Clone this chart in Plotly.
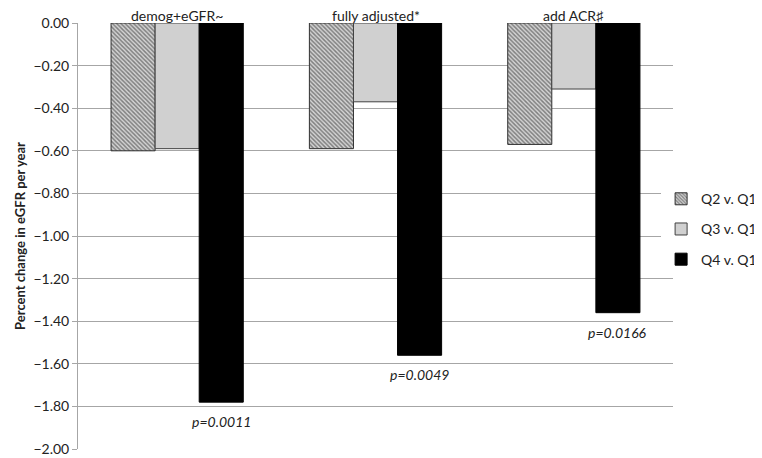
import plotly.graph_objects as go

categories = ["demog+eGFR~", "fully adjusted*", "add ACR\u266f"]
series_names = ["Q2 v. Q1", "Q3 v. Q1", "Q4 v. Q1"]
q2_values = [-0.60, -0.59, -0.57]
q3_values = [-0.59, -0.37, -0.31]
q4_values = [-1.78, -1.56, -1.36]
p_labels = ["p=0.0011", "p=0.0049", "p=0.0166"]
y_ticks = [0.0, -0.2, -0.4, -0.6, -0.8, -1.0, -1.2, -1.4, -1.6, -1.8, -2.0]

FONT = "Lato"
fig = go.Figure()
fig.add_trace(go.Bar(
    name=series_names[0], x=categories, y=q2_values, legendgroup="a",
    marker=dict(color="#b5b5b5", line=dict(color="#303030", width=1),
                pattern=dict(shape="\\", fgcolor="#2a2a2a", bgcolor="#d4d4d4",
                             size=3, solidity=0.5)),
))
fig.add_trace(go.Bar(
    name=series_names[1], x=categories, y=q3_values, legendgroup="b",
    marker=dict(color="#d0d0d0", line=dict(color="#404040", width=1)),
))
fig.add_trace(go.Bar(
    name=series_names[2], x=categories, y=q4_values, legendgroup="c",
    marker=dict(color="#000000", line=dict(color="#000000", width=1)),
))

bargap = 1 / 3
bar_w = (1 - bargap) / 3
for i, (lab, v) in enumerate(zip(p_labels, q4_values)):
    fig.add_annotation(
        x=i + bar_w, y=v, xref="x", yref="y", text="<i>" + lab + "</i>",
        showarrow=False, yanchor="top", yshift=-9,
        font=dict(family=FONT, size=14, color="#222222"),
    )

# category labels sit just above the zero line
for i, cat in enumerate(categories):
    fig.add_annotation(
        x=i, y=0, xref="x", yref="y", text=cat, showarrow=False,
        yanchor="middle", yshift=8,
        font=dict(family=FONT, size=14, color="#222222"),
    )

# page body has an 8px margin: figure is offset accordingly
fig.update_layout(
    width=770, height=450,
    margin=dict(l=70, r=105, t=15, b=9),
    paper_bgcolor="white", plot_bgcolor="white",
    barmode="group", bargap=bargap, bargroupgap=0,
    font=dict(family=FONT, size=13, color="#222222"),
    legend=dict(x=0.98, xanchor="left", y=0.516, yanchor="middle",
                font=dict(family=FONT, size=14), itemwidth=30,
                tracegroupgap=9, borderwidth=0),
    showlegend=True,
)
fig.update_xaxes(showticklabels=False, showgrid=False, showline=False,
                 ticks="", automargin=False)
fig.update_yaxes(range=[-2.0, 0.0], tickvals=y_ticks, tickformat=".2f",
                 automargin=False,
                 tickfont=dict(family=FONT, size=14),
                 showgrid=True, gridcolor="#a6a6a6", gridwidth=1,
                 showline=True, linecolor="#a6a6a6", linewidth=1,
                 ticks="outside", ticklen=5, tickcolor="#a6a6a6",
                 zeroline=False,
                 title=dict(text="<b>Percent change in eGFR per year</b>",
                            font=dict(family=FONT, size=13), standoff=4))

fig.write_html("out.html")
